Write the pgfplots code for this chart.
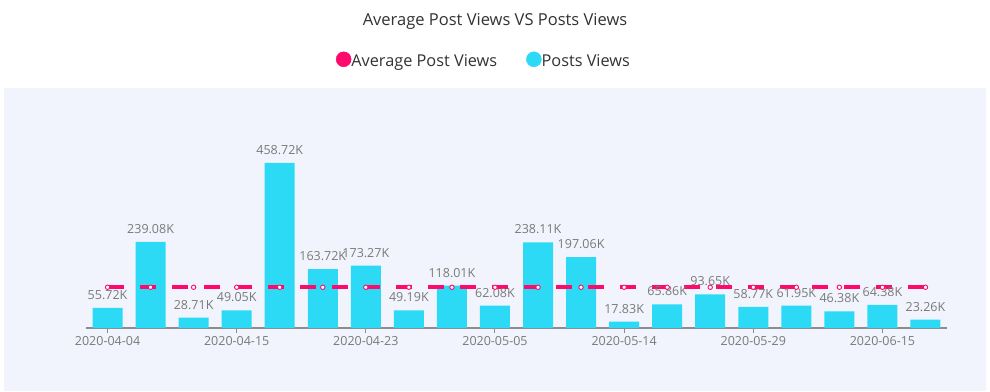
\documentclass[border=0pt]{standalone}
\usepackage{fontspec}
\setmainfont{Open Sans}
\usepackage{pgfplots}
\usepackage{pgfplotstable}
\pgfplotsset{compat=1.18}
\definecolor{bgc}{HTML}{F1F4FC}
\definecolor{barc}{HTML}{2CDAF5}
\definecolor{pinkc}{HTML}{FF0A6C}
\definecolor{lblc}{HTML}{7A7A7A}
\definecolor{titc}{HTML}{333333}
\definecolor{axc}{HTML}{8C8C8C}

\pgfplotstableread{
x y
0 55.72
1 239.08
2 28.71
3 49.05
4 458.72
5 163.72
6 173.27
7 49.19
8 118.01
9 62.08
10 238.11
11 197.06
12 17.83
13 65.86
14 93.65
15 58.77
16 61.95
17 46.38
18 64.38
19 23.26
}\views

\pgfplotstableread{
x y
0 113.24
1 113.24
2 113.24
3 113.24
4 113.24
5 113.24
6 113.24
7 113.24
8 113.24
9 113.24
10 113.24
11 113.24
12 113.24
13 113.24
14 113.24
15 113.24
16 113.24
17 113.24
18 113.24
19 113.24
}\avg

\begin{document}
\begin{tikzpicture}[x=1pt,y=1pt]
\fill[white] (0,0) rectangle (990,391);
\fill[bgc] (4,0) rectangle (986,303);
\node[font=\fontsize{16.5}{19}\selectfont, text=titc, anchor=base, inner sep=0pt] at (495,365) {Average Post Views VS Posts Views};
\begin{axis}[
  at={(86pt,63pt)}, anchor=south west,
  scale only axis, width=861pt, height=179.9pt,
  xmin=-0.5, xmax=19.5, ymin=0, ymax=500,
  /pgf/number format/assume math mode=true,
  axis y line=none, axis x line*=bottom,
  x axis line style={axc, line width=1.2pt},
  xtick={0,3,6,9,12,15,18},
  xticklabels={2020-04-04,2020-04-15,2020-04-23,2020-05-05,2020-05-14,2020-05-29,2020-06-15},
  ytick=\empty,
  tick align=outside, major tick length=5pt,
  tick style={axc, line width=1pt},
  xticklabel style={font=\fontsize{12.5}{15}\selectfont, text=lblc, inner sep=0pt, yshift=-3pt},
  clip=false,
  legend columns=2,
  legend style={draw=none, fill=none, at={(0.461,1.49)}, anchor=center,
    font=\fontsize{16.3}{19}\selectfont, text=titc,
    nodes={inner sep=0pt},
    /tikz/every even column/.append style={column sep=29pt}},
]
\addlegendimage{legend image code/.code={\fill[pinkc] (7.5pt,2.3pt) circle (7.5pt);}}
\addlegendentry{Average Post Views}
\addlegendimage{legend image code/.code={\fill[barc] (7.5pt,2.3pt) circle (7.5pt);}}
\addlegendentry{Posts Views}
\addplot[ybar, bar width=30pt, fill=barc, draw=none, forget plot,
  nodes near coords={\pgfmathprintnumber[fixed,fixed zerofill,precision=2]{\pgfplotspointmeta}K},
  nodes near coords style={font=\fontsize{12.5}{15}\selectfont, text=lblc, anchor=south, inner sep=0pt, yshift=8pt}]
  table[x=x,y=y] {\views};
\addplot[pinkc, line width=4pt, dash pattern=on 16pt off 16pt, forget plot,
  mark=*, mark size=2.2pt, mark options={solid, fill=white, draw=pinkc, line width=0.9pt}]
  table[x=x,y=y] {\avg};
\end{axis}
\end{tikzpicture}
\end{document}
